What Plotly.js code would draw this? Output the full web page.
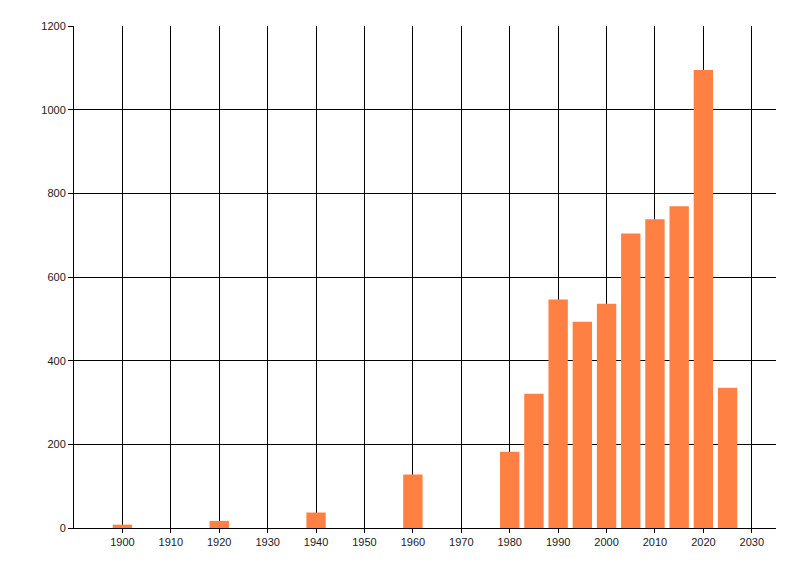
<!DOCTYPE html>
<html>
<head>
<meta charset="utf-8">
<script src="https://cdn.plot.ly/plotly-3.0.1.min.js"></script>
<style>
  body { margin: 0; background: #fff; }
  #chart { width: 800px; height: 576px; }
</style>
</head>
<body>
<div id="chart"></div>
<script>
const years = [1900, 1920, 1940, 1960, 1980, 1985, 1990, 1995, 2000, 2005, 2010, 2015, 2020, 2025];
const counts = [8, 17, 37, 128, 182, 321, 546, 493, 536, 704, 738, 769, 1095, 335];
const xTicks = [1900, 1910, 1920, 1930, 1940, 1950, 1960, 1970, 1980, 1990, 2000, 2010, 2020, 2030];
const yTicks = [0, 200, 400, 600, 800, 1000, 1200];

const trace = {
  x: years,
  y: counts,
  type: 'bar',
  width: 4,
  marker: { color: '#ff8042' },
  hoverinfo: 'x+y',
};

const layout = {
  width: 800,
  height: 576,
  margin: { l: 74, r: 24, t: 26, b: 48 },
  paper_bgcolor: '#fff',
  plot_bgcolor: '#fff',
  showlegend: false,
  font: { family: 'Liberation Sans, Arial, sans-serif', size: 11, color: '#1a1a1a' },
  xaxis: {
    range: [1890, 2035],
    tickvals: xTicks,
    ticktext: xTicks.map(String),
    showgrid: true,
    gridcolor: '#000',
    gridwidth: 1,
    zeroline: false,
    showline: true,
    linecolor: '#000',
    linewidth: 1,
    ticks: 'outside',
    ticklen: 4,
    tickcolor: '#000',
  },
  yaxis: {
    range: [0, 1200],
    tickvals: yTicks,
    showgrid: true,
    gridcolor: '#000',
    gridwidth: 1,
    zeroline: false,
    showline: true,
    linecolor: '#000',
    linewidth: 1,
    ticks: 'outside',
    ticklen: 5,
    tickcolor: '#000',
  },
};

Plotly.newPlot('chart', [trace], layout, { displayModeBar: false, staticPlot: true });
</script>
</body>
</html>
